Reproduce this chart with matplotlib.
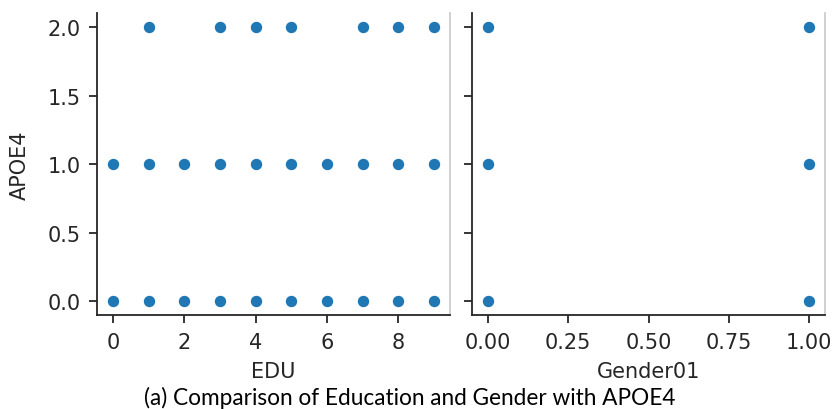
import matplotlib.pyplot as plt
import numpy as np

# APOE4 against years of education (EDU) and gender (0/1)
edu = [1, 3, 4, 5, 7, 8, 9,
       0, 1, 2, 3, 4, 5, 6, 7, 8, 9,
       0, 1, 2, 3, 4, 5, 6, 7, 8, 9]
apoe4_edu = [2, 2, 2, 2, 2, 2, 2,
             1, 1, 1, 1, 1, 1, 1, 1, 1, 1,
             0, 0, 0, 0, 0, 0, 0, 0, 0, 0]

gender01 = [0, 1, 0, 1, 0, 1]
apoe4_gender = [2, 2, 1, 1, 0, 0]

edu_ticks = [0, 2, 4, 6, 8]
gender_ticks = [0.0, 0.25, 0.5, 0.75, 1.0]
apoe4_ticks = [0.0, 0.5, 1.0, 1.5, 2.0]

caption = "(a) Comparison of Education and Gender with APOE4"

text_color = "#262626"
dot_color = "#1f77b4"

plt.rcParams["font.family"] = "DejaVu Sans"

fig = plt.figure(figsize=(8.32, 4.10), dpi=100)
ax1 = fig.add_axes([0.1166, 0.230, 0.4243, 0.735])
ax2 = fig.add_axes([0.5673, 0.230, 0.4243, 0.735], sharey=ax1)

ax1.scatter(edu, apoe4_edu, s=85, color=dot_color, edgecolor="white", linewidth=1, zorder=3)
ax2.scatter(gender01, apoe4_gender, s=85, color=dot_color, edgecolor="white", linewidth=1, zorder=3)

ax1.set_xticks(edu_ticks)
ax2.set_xticks(gender_ticks)
ax2.set_xticklabels([f"{t:.2f}" for t in gender_ticks])
ax1.set_yticks(apoe4_ticks)
ax1.set_yticklabels([f"{t:.1f}" for t in apoe4_ticks])
ax1.set_ylim(-0.1, 2.1)
ax1.set_xlim(-0.45, 9.45)
ax2.set_xlim(-0.05, 1.05)
plt.setp(ax2.get_yticklabels(), visible=False)

ax1.set_xlabel("EDU", fontsize=15, color=text_color)
ax2.set_xlabel("Gender01", fontsize=15, color=text_color)
ax1.set_ylabel("APOE4", fontsize=15, color=text_color)
ax1.xaxis.set_label_coords(0.5, -0.152)
ax2.xaxis.set_label_coords(0.5, -0.152)
ax1.yaxis.set_label_coords(-0.19, 0.5)

for ax in (ax1, ax2):
    ax.spines["top"].set_visible(False)
    ax.spines["right"].set_color("#c8c8c8")
    ax.spines["right"].set_linewidth(1.2)
    for side in ("left", "bottom"):
        ax.spines[side].set_linewidth(1.3)
        ax.spines[side].set_color(text_color)
    ax.tick_params(axis="both", labelsize=15, length=6, width=1.3,
                   color=text_color, labelcolor=text_color, pad=5.5)
    ax.tick_params(axis="x", pad=6.5)

fig.text(0.4928, 0.012, caption, ha="center", va="baseline",
         fontsize=16.3, color="black", family=["Lato", "DejaVu Sans"])

fig.savefig("out.png", dpi=100)
